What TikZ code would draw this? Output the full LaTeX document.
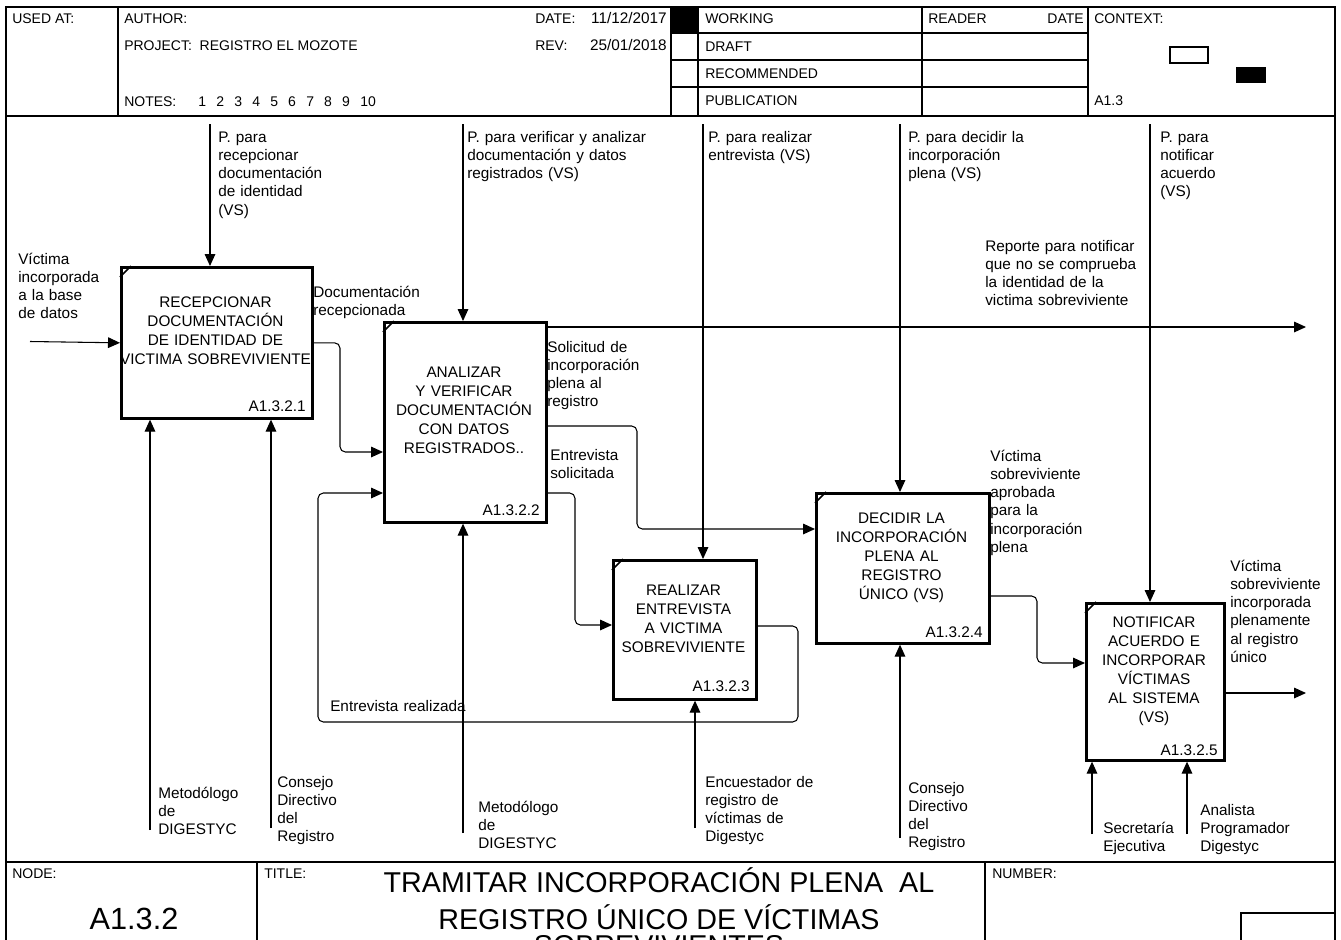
\documentclass[tikz,border=0pt]{standalone}
\usepackage{fontspec}
\setmainfont{Liberation Sans}
\usetikzlibrary{arrows.meta}

\begin{document}
\begin{tikzpicture}[x=0.75pt,y=-0.75pt,
  frame/.style={line width=1pt},
  proc/.style={draw, line width=2pt, inner sep=0pt, anchor=north west},
  tick/.style={line width=1.2pt},
  arr/.style={line width=0.8pt, rounded corners=4pt, -{Triangle[length=9pt,width=8pt]}},
  lbl/.style={anchor=base west, align=left, text width=5cm, inner sep=0pt,
              font=\fontsize{11.5}{13.7}\selectfont},
  ptxt/.style={anchor=base, align=center, text width=170pt, inner sep=0pt,
              font=\fontsize{11.5}{14.3}\selectfont},
  pid/.style={anchor=base east, inner sep=0pt, font=\fontsize{11.5}{13.7}\selectfont},
  hdr/.style={anchor=base west, inner sep=0pt, font=\fontsize{10.5}{12}\selectfont},
  big/.style={inner sep=0pt, font=\fontsize{21.5}{28}\selectfont}]

\clip (0,0) rectangle (1341,939);
\fill[white] (0,0) rectangle (1341,939);

% ---------- sheet frame ----------
\draw[frame] (6,7) rectangle (1335,960);
\draw[frame] (6,116) -- (1335,116);
\draw[frame] (6,862) -- (1335,862);
\foreach \x in {118,671,698,922,1088} \draw[frame] (\x,7) -- (\x,116);
\foreach \y in {33,60,87} \draw[frame] (671,\y) -- (1088,\y);
\fill (671,7) rectangle (698,33);
\draw[frame] (1170,47) rectangle (1208,63);
\fill (1236,67) rectangle (1266,83);
\draw[frame] (257,862) -- (257,960);
\draw[frame] (985,862) -- (985,960);
\draw[frame] (1241,960) -- (1241,913) -- (1335,913);

% ---------- header texts ----------
\node[hdr] (usedat) at (12,23) {USED AT:};
\node[hdr] (author) at (124,23) {AUTHOR:};
\node[hdr] (project) at (124,50) {PROJECT:\ \ REGISTRO EL MOZOTE};
\node[hdr] (notes) at (124,106) {NOTES:};
\node[hdr] (notenums) at (198,106) {\makebox[13.5pt][l]{1}\makebox[13.5pt][l]{2}\makebox[13.5pt][l]{3}\makebox[13.5pt][l]{4}\makebox[13.5pt][l]{5}\makebox[13.5pt][l]{6}\makebox[13.5pt][l]{7}\makebox[13.5pt][l]{8}\makebox[13.5pt][l]{9}10};
\node[hdr] (datek) at (535,23) {DATE:};
\node[hdr, anchor=base east, font=\fontsize{11.5}{12}\selectfont] (datev) at (667,23) {11/12/2017};
\node[hdr] (revk) at (535,50) {REV:};
\node[hdr, anchor=base east, font=\fontsize{11.5}{12}\selectfont] (revv) at (667,50) {25/01/2018};
\node[hdr] (working) at (705,23) {WORKING};
\node[hdr] (draft) at (705,51) {DRAFT};
\node[hdr] (recom) at (705,78) {RECOMMENDED};
\node[hdr] (publ) at (705,105) {PUBLICATION};
\node[hdr] (reader) at (928,23) {READER};
\node[hdr, anchor=base east] (rdate) at (1084,23) {DATE};
\node[hdr] (context) at (1094,23) {CONTEXT:};
\node[hdr] (ctxid) at (1094,105) {A1.3};

% ---------- footer texts ----------
\node[hdr] (nodek) at (12,878) {NODE:};
\node[hdr] (titlek) at (264,878) {TITLE:};
\node[hdr] (numberk) at (992,878) {NUMBER:};
\node[big, anchor=base, font=\fontsize{23}{28}\selectfont] (nodeid) at (134,929) {A1.3.2};
\node[big, anchor=base, align=center] (title1) at (659,892) {TRAMITAR INCORPORACIÓN PLENA\ \ AL};
\node[big, anchor=base, align=center] (title2) at (659,929) {REGISTRO ÚNICO DE VÍCTIMAS};
\node[big, anchor=base, align=center] (title3) at (659,955) {SOBREVIVIENTES};

% ---------- activity boxes ----------
\node[proc, minimum width=191*0.75pt, minimum height=151*0.75pt] (b1) at (120,266) {};
\node[proc, minimum width=162*0.75pt, minimum height=200*0.75pt] (b2) at (383,321) {};
\node[proc, minimum width=143*0.75pt, minimum height=139*0.75pt] (b3) at (612,559) {};
\node[proc, minimum width=173*0.75pt, minimum height=150*0.75pt] (b4) at (815,492) {};
\node[proc, minimum width=138*0.75pt, minimum height=157*0.75pt] (b5) at (1085,602) {};

\foreach \b in {b1,b2,b3,b4,b5}
  \draw[tick] (\b.north west) ++(0,11) -- ++(11,-11);

\node[ptxt] (b1t) at (215.5,307) {RECEPCIONAR\\DOCUMENTACIÓN\\DE IDENTIDAD DE\\VICTIMA SOBREVIVIENTE};
\node[ptxt] (b2t) at (464,377) {ANALIZAR\\Y VERIFICAR\\DOCUMENTACIÓN\\CON DATOS\\REGISTRADOS..};
\node[ptxt] (b3t) at (683.5,595) {REALIZAR\\ENTREVISTA\\A VICTIMA\\SOBREVIVIENTE};
\node[ptxt] (b4t) at (901.5,523) {DECIDIR LA\\INCORPORACIÓN\\PLENA AL\\REGISTRO\\ÚNICO (VS)};
\node[ptxt] (b5t) at (1154,627) {NOTIFICAR\\ACUERDO E\\INCORPORAR\\VÍCTIMAS\\AL SISTEMA\\(VS)};

\node[pid] (b1id) at (306,411) {A1.3.2.1};
\node[pid] (b2id) at (540,515) {A1.3.2.2};
\node[pid] (b3id) at (750,691) {A1.3.2.3};
\node[pid] (b4id) at (983,637) {A1.3.2.4};
\node[pid] (b5id) at (1218,755) {A1.3.2.5};

% ---------- controls ----------
\coordinate (c1) at (210,124);
\coordinate (c2) at (463,124);
\coordinate (c3) at (703,124);
\coordinate (c4) at (900,124);
\coordinate (c5) at (1150,124);
\draw[arr] (c1) -- (c1 |- b1.north);
\draw[arr] (c2) -- (c2 |- b2.north);
\draw[arr] (c3) -- (c3 |- b3.north);
\draw[arr] (c4) -- (c4 |- b4.north);
\draw[arr] (c5) -- (c5 |- b5.north);

\node[lbl] (c1l) at (218,142) {P. para\\recepcionar\\documentación\\de identidad\\(VS)};
\node[lbl] (c2l) at (467,142) {P. para verificar y analizar\\documentación y datos\\registrados (VS)};
\node[lbl] (c3l) at (708,142) {P. para realizar\\entrevista (VS)};
\node[lbl] (c4l) at (908,142) {P. para decidir la\\incorporación\\plena (VS)};
\node[lbl] (c5l) at (1160,142) {P. para\\notificar\\acuerdo\\(VS)};

% ---------- mechanisms ----------
\coordinate (m1) at (150,830);
\coordinate (m2) at (271,828);
\coordinate (m3) at (463,833);
\coordinate (m4) at (695,828);
\coordinate (m5) at (900,838);
\coordinate (m6) at (1092,834);
\coordinate (m7) at (1187,834);
\draw[arr] (m1) -- (m1 |- b1.south);
\draw[arr] (m2) -- (m2 |- b1.south);
\draw[arr] (m3) -- (m3 |- b2.south);
\draw[arr] (m4) -- (m4 |- b3.south);
\draw[arr] (m5) -- (m5 |- b4.south);
\draw[arr] (m6) -- (m6 |- b5.south);
\draw[arr] (m7) -- (m7 |- b5.south);

\node[lbl] (m1l) at (158,798) {Metodólogo\\de\\DIGESTYC};
\node[lbl] (m2l) at (277,787) {Consejo\\Directivo\\del\\Registro};
\node[lbl] (m3l) at (478,812) {Metodólogo\\de\\DIGESTYC};
\node[lbl] (m4l) at (705,787) {Encuestador de\\registro de\\víctimas de\\Digestyc};
\node[lbl] (m5l) at (908,793) {Consejo\\Directivo\\del\\Registro};
\node[lbl] (m6l) at (1103,833) {Secretaría\\Ejecutiva};
\node[lbl] (m7l) at (1200,815) {Analista\\Programador\\Digestyc};

% ---------- inputs and outputs ----------
\coordinate (i1) at (30,341.5);
\coordinate (o1) at (1306,327);
\coordinate (o2) at (1306,693);
\draw[arr] (i1) -- (b1.west);
\draw[arr] (b1.east) -| (340,452) -- (b2.west |- 0,452);
\draw[arr] (b2.east |- o1) -- (o1);
\draw[arr] (b2.east |- 0,426) -| (637,529) -- (b4.west |- 0,529);
\draw[arr] (b2.east |- 0,493) -| (575,625) -- (b3.west |- 0,625);
\draw[arr] (b3.east |- 0,626) -| (798,722) -| (318,493) -- (b2.west |- 0,493);
\draw[arr] (b4.east |- 0,596) -| (1037,663) -- (b5.west |- 0,663);
\draw[arr] (b5.east |- o2) -- (o2);

\node[lbl] (i1l) at (18,264) {Víctima\\incorporada\\a la base\\de datos};
\node[lbl] (docl) at (313,297) {Documentación\\recepcionada};
\node[lbl] (repl) at (985,251) {Reporte para notificar\\que no se comprueba\\la identidad de la\\victima sobreviviente};
\node[lbl] (soll) at (547,352) {Solicitud de\\incorporación\\plena al\\registro};
\node[lbl] (entl) at (550,460) {Entrevista\\solicitada};
\node[lbl] (apl) at (990,461) {Víctima\\sobreviviente\\aprobada\\para la\\incorporación\\plena};
\node[lbl] (finl) at (1230,571) {Víctima\\sobreviviente\\incorporada\\plenamente\\al registro\\único};
\node[lbl] (reall) at (330,711) {Entrevista realizada};

\end{tikzpicture}
\end{document}
